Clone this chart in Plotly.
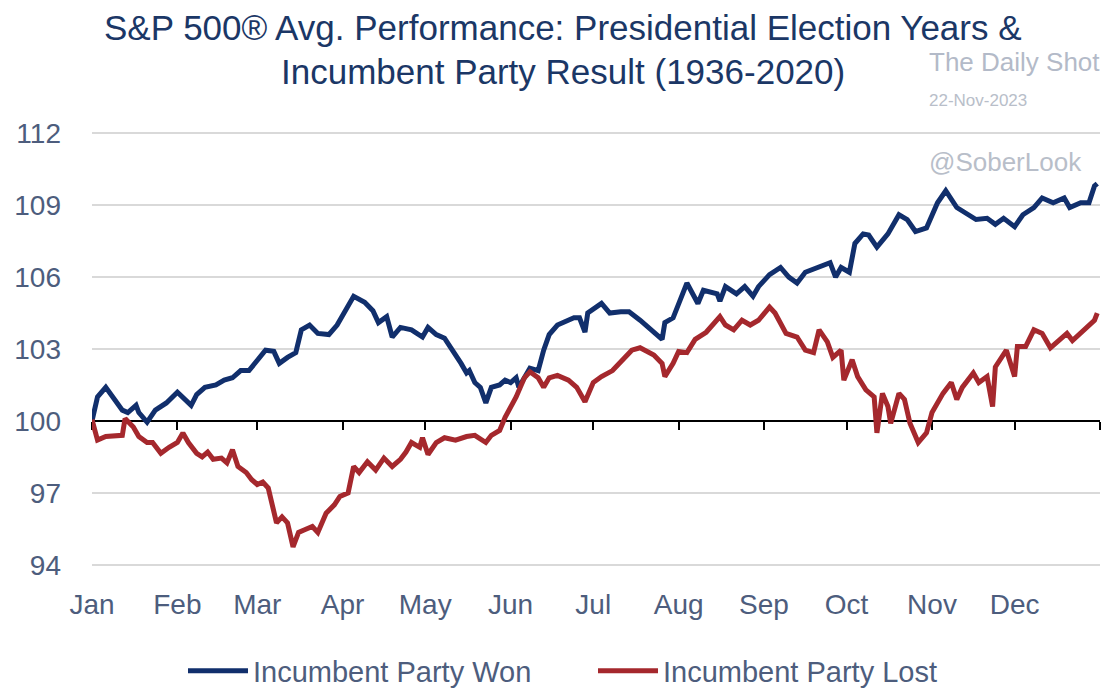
import pandas as pd
import plotly.graph_objects as go

# ---------------- data ----------------
year_start = "2020-01-01"
month_labels = ["Jan", "Feb", "Mar", "Apr", "May", "Jun",
                "Jul", "Aug", "Sep", "Oct", "Nov", "Dec"]
y_ticks = [94, 97, 100, 103, 106, 109, 112]

won_day = [0, 2, 5, 8, 11, 13, 16, 17, 20, 23, 27, 31, 33, 36, 38, 41, 45, 48, 51, 54,
           57, 60, 63, 66, 68, 71, 74, 76, 79, 82, 86, 89, 95, 99, 102, 104, 107, 109, 112, 116,
           120, 122, 125, 128, 131, 134, 136, 137, 139, 141, 143, 145, 148, 150, 152, 154, 155, 159, 162, 164,
           166, 169, 175, 177, 179, 180, 185, 188, 192, 195, 199, 202, 207, 208, 211, 216, 220, 222, 227, 228,
           230, 234, 237, 240, 242, 246, 250, 253, 256, 259, 263, 268, 270, 272, 275, 277, 280, 282, 285, 287,
           289, 293, 296, 299, 303, 307, 310, 314, 317, 321, 325, 328, 331, 335, 338, 342, 345, 349, 353, 355,
           359, 362, 364, 365]
won_value = [100.0, 101.0, 101.4, 100.95, 100.45, 100.35, 100.65, 100.35, 99.95, 100.45, 100.75, 101.2, 101.0, 100.65, 101.1, 101.4, 101.5, 101.7, 101.8, 102.1,
             102.1, 102.5, 102.95, 102.9, 102.4, 102.65, 102.85, 103.8, 104.0, 103.65, 103.6, 104.0, 105.2, 104.95, 104.6, 104.1, 104.35, 103.5, 103.9, 103.8,
             103.5, 103.9, 103.6, 103.45, 102.95, 102.4, 102.0, 102.1, 101.6, 101.4, 100.75, 101.4, 101.5, 101.7, 101.6, 101.8, 101.4, 102.2, 102.1, 102.95,
             103.6, 104.0, 104.3, 104.3, 103.7, 104.5, 104.9, 104.5, 104.55, 104.55, 104.2, 103.9, 103.4, 104.1, 104.3, 105.75, 104.9, 105.45, 105.3, 105.0,
             105.6, 105.3, 105.6, 105.2, 105.6, 106.1, 106.4, 106.0, 105.75, 106.2, 106.4, 106.6, 106.0, 106.4, 106.2, 107.4, 107.8, 107.75, 107.25, 107.55,
             107.8, 108.6, 108.4, 107.9, 108.05, 109.1, 109.6, 108.9, 108.7, 108.4, 108.45, 108.2, 108.45, 108.1, 108.6, 108.9, 109.3, 109.1, 109.3, 108.9,
             109.1, 109.1, 109.8, 109.9]

lost_day = [0, 2, 5, 8, 11, 12, 15, 17, 20, 22, 25, 28, 31, 33, 35, 38, 40, 42, 44, 47,
            49, 51, 53, 56, 58, 60, 62, 64, 67, 69, 71, 73, 75, 77, 80, 82, 85, 88, 90, 93,
            95, 97, 100, 103, 106, 109, 112, 114, 116, 119, 120, 122, 125, 128, 132, 136, 139, 143, 145, 148,
            150, 154, 157, 159, 162, 164, 166, 169, 173, 176, 179, 182, 185, 189, 192, 196, 199, 201, 204, 207,
            208, 211, 213, 216, 219, 223, 226, 228, 230, 233, 236, 239, 242, 246, 248, 252, 256, 259, 262, 264,
            267, 269, 272, 273, 276, 278, 281, 284, 285, 287, 289, 290, 293, 295, 297, 300, 303, 305, 309, 312,
            314, 316, 320, 322, 325, 327, 328, 332, 335, 336, 339, 342, 345, 348, 351, 354, 356, 360, 364, 365]
lost_value = [100.05, 99.2, 99.35, 99.35, 99.4, 100.1, 99.75, 99.35, 99.1, 99.1, 98.65, 98.9, 99.1, 99.5, 99.1, 98.65, 98.5, 98.7, 98.4, 98.45,
              98.25, 98.8, 98.1, 97.85, 97.55, 97.35, 97.45, 97.2, 95.75, 96.0, 95.75, 94.75, 95.35, 95.45, 95.6, 95.35, 96.15, 96.5, 96.85, 97.0,
              98.1, 97.85, 98.3, 97.95, 98.45, 98.1, 98.4, 98.7, 99.1, 98.9, 99.3, 98.6, 99.1, 99.3, 99.2, 99.35, 99.4, 99.1, 99.4, 99.6,
              100.15, 101.0, 101.8, 102.05, 101.8, 101.4, 101.8, 101.9, 101.7, 101.4, 100.8, 101.6, 101.85, 102.1, 102.45, 102.95, 103.05, 102.95, 102.75, 102.4,
              101.85, 102.4, 102.9, 102.85, 103.4, 103.7, 104.1, 104.35, 104.0, 103.8, 104.2, 104.0, 104.2, 104.75, 104.5, 103.65, 103.5, 102.95, 102.85, 103.8,
              103.3, 102.65, 102.95, 101.7, 102.55, 101.85, 101.3, 101.0, 99.5, 101.15, 100.6, 99.9, 101.15, 100.9, 99.9, 99.1, 99.5, 100.35, 101.15, 101.6,
              100.9, 101.4, 102.0, 101.6, 101.85, 100.6, 102.25, 102.95, 101.85, 103.1, 103.1, 103.8, 103.65, 103.05, 103.35, 103.65, 103.35, 103.8, 104.2, 104.5]

# ---------------- layout helpers ----------------
W, H = 1104, 694
ML, MR, MT, MB = 92, 4, 132, 128
PW, PH = W - ML - MR, H - MT - MB
Y_RANGE = [93.95, 112.05]


def px_x(px):
    return (px - ML) / PW


def px_y(py):
    return (H - MB - py) / PH


base = pd.Timestamp(year_start)
won_dates = base + pd.to_timedelta(won_day, unit="D")
lost_dates = base + pd.to_timedelta(lost_day, unit="D")
month_starts = pd.date_range(year_start, periods=13, freq="MS")
x_range = [month_starts[0], month_starts[-1]]

BLUE = "#112f6c"
RED = "#a5282d"
AXIS_TXT = "#4d5d7d"
REG = "Liberation Sans, Arial, sans-serif"

fig = go.Figure()
fig.add_trace(go.Scatter(x=won_dates, y=won_value, mode="lines", name="Incumbent Party Won",
                         line=dict(color=BLUE, width=5), xaxis="x", yaxis="y"))
fig.add_trace(go.Scatter(x=lost_dates, y=lost_value, mode="lines", name="Incumbent Party Lost",
                         line=dict(color=RED, width=5), xaxis="x2", yaxis="y"))

pos100 = (100 - Y_RANGE[0]) / (Y_RANGE[1] - Y_RANGE[0])

fig.update_layout(
    width=W, height=H,
    margin=dict(l=ML, r=MR, t=MT, b=MB, pad=0, autoexpand=False),
    paper_bgcolor="white", plot_bgcolor="white",
    showlegend=True,
    xaxis=dict(range=x_range, tickvals=month_starts[:12], ticktext=month_labels,
               showgrid=False, zeroline=False, showline=False, ticks="",
               ticklabelstandoff=19, automargin=False,
               tickfont=dict(family=REG, size=28, color=AXIS_TXT)),
    xaxis2=dict(range=x_range, overlaying="x", matches="x", anchor="free", position=pos100,
                tickvals=month_starts, showticklabels=False, showgrid=False, zeroline=False,
                showline=True, linecolor="black", linewidth=2,
                ticks="outside", ticklen=8, tickwidth=2, tickcolor="black",
                layer="below traces"),
    yaxis=dict(range=Y_RANGE, tickvals=y_ticks, showgrid=True, gridcolor="#d9d9d9", gridwidth=2,
               zeroline=False, showline=False, ticks="", ticklabelstandoff=30, automargin=False,
               tickfont=dict(family=REG, size=28, color=AXIS_TXT)),
    legend=dict(orientation="h", x=px_x(593), xanchor="center", y=px_y(671), yanchor="middle",
                font=dict(family=REG, size=29, color=AXIS_TXT), itemwidth=60,
                entrywidth=335, entrywidthmode="pixels",
                bgcolor="rgba(0,0,0,0)"),
)

title_lines = ["S&P 500\u00ae Avg. Performance: Presidential Election Years &",
               "Incumbent Party Result (1936-2020)"]
for txt, cy in zip(title_lines, [28, 72]):
    fig.add_annotation(text=txt, x=px_x(563), y=px_y(cy), xref="paper", yref="paper",
                       xanchor="center", yanchor="middle", showarrow=False,
                       font=dict(family=REG, size=35, color="#1b3766"))

marks = [("The Daily Shot", 62, 26, "#b3bac8"),
         ("22-Nov-2023", 100, 17, "#b8bec9"),
         ("@SoberLook", 162, 26, "#b8bec9")]
for txt, cy, sz, col in marks:
    fig.add_annotation(text=txt, x=px_x(927), y=px_y(cy), xref="paper", yref="paper",
                       xanchor="left", yanchor="middle", showarrow=False,
                       font=dict(family=REG, size=sz, color=col))

fig.write_html("out.html")
